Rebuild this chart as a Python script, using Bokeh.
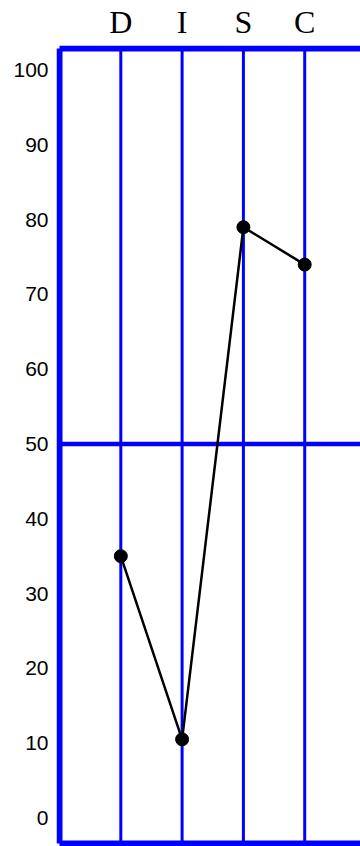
from bokeh.plotting import figure
from bokeh.models import FixedTicker, Range1d
from bokeh.embed import file_html
from bokeh.resources import INLINE

categories = ["D", "I", "S", "C"]
positions = [1, 2, 3, 4]
values = [35, 10.5, 79, 74]
y_ticks = [0, 10, 20, 30, 40, 50, 60, 70, 80, 90, 100]

BLUE = "#0000FF"
Y_LO, Y_HI = -3.83, 103.3
X_LO, X_HI = -0.049, 4.91

p = figure(width=360, height=846, output_backend="svg", toolbar_location=None,
           x_axis_location="above",
           x_range=Range1d(X_LO, X_HI), y_range=Range1d(Y_LO, Y_HI),
           min_border_left=56, min_border_right=0, min_border_top=44,
           min_border_bottom=0)
p.outline_line_color = None
p.xgrid.visible = False
p.ygrid.visible = False
p.background_fill_color = "white"
p.border_fill_color = "white"

# frame borders (left, top, bottom)
bx0, bx1 = 0, X_HI
by0, by1 = -3.43, 102.9
p.segment(x0=[bx0, bx0, bx0], y0=[by0, by1, by0], x1=[bx0, bx1, bx1], y1=[by1, by1, by0],
          line_color=BLUE, line_width=6)
# vertical category lines
p.segment(x0=positions, y0=[by0] * 4, x1=positions, y1=[by1] * 4,
          line_color=BLUE, line_width=3)
# midline at 50
p.segment(x0=[bx0], y0=[50], x1=[bx1], y1=[50], line_color=BLUE, line_width=4.5)

# data
p.line(positions, values, line_color="black", line_width=2.5)
p.scatter(positions, values, size=13, fill_color="black", line_color="black")

# top axis
xa = p.xaxis[0]
xa.ticker = FixedTicker(ticks=positions)
xa.major_label_overrides = {pos: c for pos, c in zip(positions, categories)}
xa.axis_line_color = None
xa.major_tick_line_color = None
xa.minor_tick_line_color = None
xa.major_tick_out = 0
xa.major_label_standoff = 6
xa.major_label_text_font = "Liberation Serif"
xa.major_label_text_font_size = "32px"
xa.major_label_text_color = "black"

ya = p.yaxis[0]
ya.ticker = FixedTicker(ticks=y_ticks)
ya.axis_line_color = None
ya.major_tick_line_color = None
ya.minor_tick_line_color = None
ya.major_tick_out = 0
ya.major_label_standoff = 8
ya.major_label_text_font = "Liberation Sans"
ya.major_label_text_font_size = "21px"
ya.major_label_text_color = "black"

open("out.html", "w").write(file_html(p, INLINE))
